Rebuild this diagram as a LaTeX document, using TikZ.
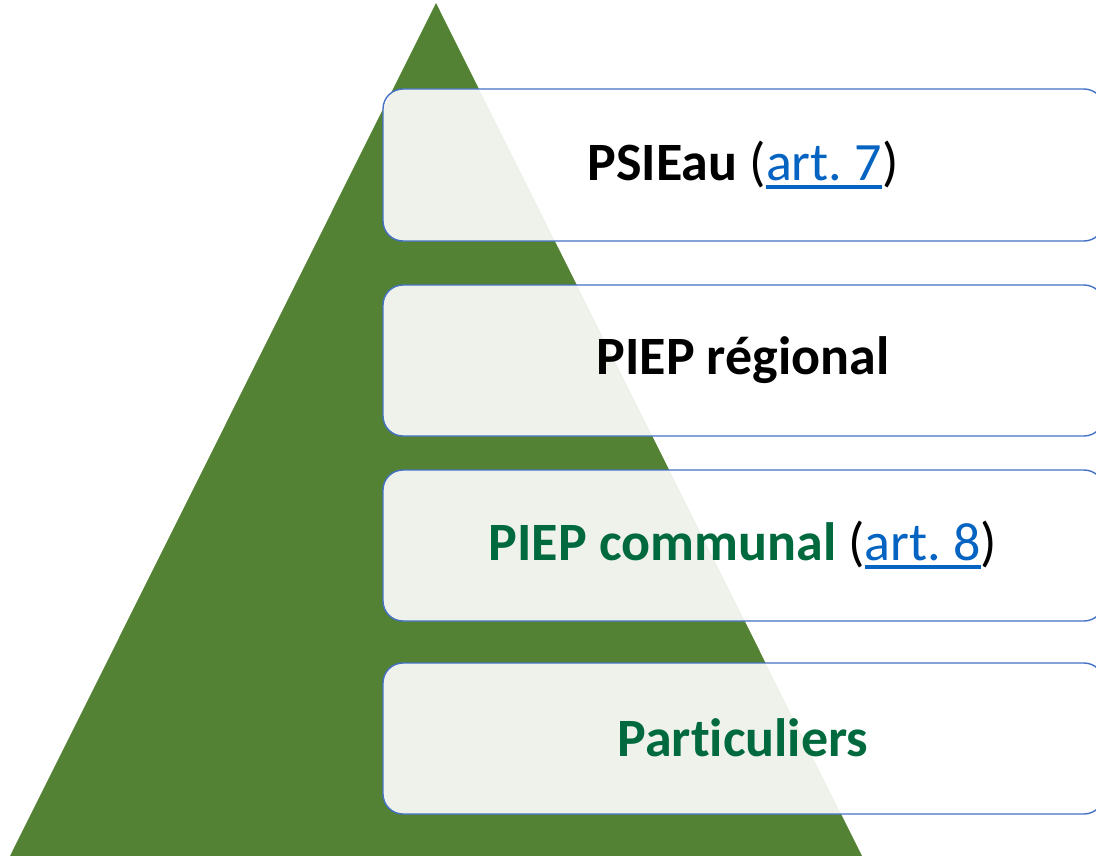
\documentclass[tikz,border=0pt]{standalone}
\usepackage{fontspec}
\setmainfont{Carlito}[RawFeature=-liga]
\definecolor{tri}{RGB}{84,130,53}
\definecolor{bord}{RGB}{68,114,196}
\definecolor{dgreen}{RGB}{0,105,62}
\definecolor{lnkblue}{RGB}{5,99,193}
\newcommand\lnkul[1]{{\setbox0\hbox{\textcolor{lnkblue}{#1}}\rlap{\textcolor{lnkblue}{\rule[-8.5pt]{\wd0}{3.6pt}}}\box0}}
\tikzset{
  layer/.style={draw=bord, line width=1.4pt, fill=white, fill opacity=0.9, rounded corners=20pt},
  lbl/.style={font=\fontsize{54}{60}\selectfont\frenchspacing, inner sep=0pt, anchor=center, text opacity=1}
}
\begin{document}
\begin{tikzpicture}[x=1pt,y=-1pt]
\useasboundingbox (0,0) rectangle (1096,856);
\clip (0,0) rectangle (1096,856);
\fill[tri] (436,3) -- (862,856) -- (10,856) -- cycle;
\draw[layer] (383,89) rectangle (1104,241);
\draw[layer] (383,285) rectangle (1104,436);
\draw[layer] (383,470) rectangle (1104,621);
\draw[layer] (383,663) rectangle (1104,814);
\node[lbl] (l1) at (743,165) {\textbf{PSIEau} (\lnkul{art. 7}\textcolor{black}{)}};
\node[lbl] (l2) at (743,360) {\textbf{PIEP régional}};
\node[lbl] (l3) at (743,545) {\textcolor{dgreen}{\textbf{PIEP communal}} (\lnkul{art. 8}\textcolor{black}{)}};
\node[lbl, text=dgreen] (l4) at (743,738) {\textbf{Particuliers}};
\end{tikzpicture}
\end{document}
